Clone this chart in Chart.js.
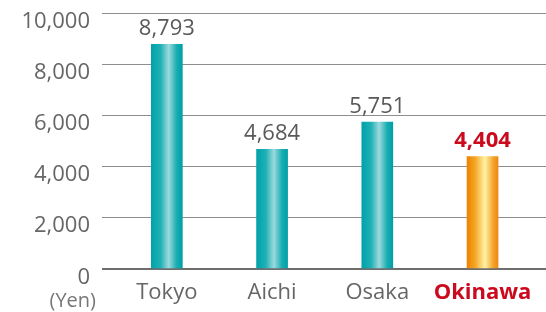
<!DOCTYPE html>
<html>
<head>
<meta charset="utf-8">
<script src="https://cdn.jsdelivr.net/npm/chart.js@4"></script>
<style>
  html, body { margin: 0; padding: 0; background: #fff; }
  canvas { display: block; }
</style>
</head>
<body>
<canvas id="chart" width="546" height="312"></canvas>
<script>
const cities = ['Tokyo', 'Aichi', 'Osaka', 'Okinawa'];
const spending = [8793, 4684, 5751, 4404];
const yTicks = [0, 2000, 4000, 6000, 8000, 10000];
const highlightIndex = 3;

const RED = '#cc0a1e';
const FONT = "'Open Sans', 'Noto Sans', sans-serif";

function barGradient(chart, i) {
  const x = chart.scales.x.getPixelForValue(i);
  const g = chart.ctx.createLinearGradient(x - 15.5, 0, x + 15.5, 0);
  if (i === highlightIndex) {
    g.addColorStop(0, '#ec8300');
    g.addColorStop(0.25, '#f5a424');
    g.addColorStop(0.58, '#fff3a4');
    g.addColorStop(0.85, '#f4a22a');
    g.addColorStop(1, '#ec8a10');
  } else {
    g.addColorStop(0, '#00a2aa');
    g.addColorStop(0.3, '#1fb1b6');
    g.addColorStop(0.56, '#9cdadc');
    g.addColorStop(0.82, '#17adb2');
    g.addColorStop(1, '#009fa7');
  }
  return g;
}

const valueLabels = {
  id: 'valueLabels',
  afterDatasetsDraw(chart) {
    const ctx = chart.ctx;
    const meta = chart.getDatasetMeta(0);
    ctx.save();
    ctx.textAlign = 'center';
    ctx.textBaseline = 'alphabetic';
    meta.data.forEach((bar, i) => {
      const hl = i === highlightIndex;
      ctx.font = (hl ? 'bold ' : '') + '22px ' + FONT;
      ctx.fillStyle = hl ? RED : '#595959';
      ctx.fillText(spending[i].toLocaleString('en-US'), bar.x, bar.y - 9);
    });
    // unit label
    ctx.font = '20px ' + FONT;
    ctx.fillStyle = '#777';
    ctx.textAlign = 'right';
    ctx.fillText('(Yen)', 96, 307);
    ctx.restore();
  }
};

new Chart(document.getElementById('chart'), {
  type: 'bar',
  data: {
    datasets: [{
      data: spending.map((v, i) => ({ x: i, y: v })),
      backgroundColor: ctx => {
        const chart = ctx.chart;
        if (!chart.chartArea || !chart.scales.x) return '#00a2aa';
        return barGradient(chart, ctx.dataIndex);
      },
      borderWidth: 0,
      barThickness: 31
    }]
  },
  options: {
    responsive: false,
    animation: false,
    layout: { padding: { top: 13.5, right: 0, left: 0, bottom: 0 } },
    plugins: {
      legend: { display: false },
      tooltip: { enabled: false }
    },
    scales: {
      x: {
        type: 'linear',
        offset: false,
        min: -0.616,
        max: 3.603,
        grid: { display: false },
        border: { display: false },
        afterBuildTicks: scale => {
          scale.ticks = cities.map((c, i) => ({ value: i }));
        },
        afterFit: scale => {
          scale.height = 43;
          scale.paddingLeft = 0;
          scale.paddingRight = 0;
        },
        ticks: {
          autoSkip: false,
          maxRotation: 0,
          padding: 3,
          callback: v => cities[v],
          color: ctx => ctx.index === highlightIndex ? RED : '#666',
          font: ctx => ({
            family: FONT,
            size: 22,
            weight: ctx.index === highlightIndex ? 'bold' : 'normal'
          })
        }
      },
      y: {
        min: 0,
        max: 10000,
        afterBuildTicks: scale => {
          scale.ticks = yTicks.map(v => ({ value: v }));
        },
        afterFit: scale => {
          scale.width = 102;
          scale.paddingTop = 0;
          scale.paddingBottom = 0;
        },
        grid: {
          drawTicks: false,
          color: ctx => ctx.tick && ctx.tick.value === 0 ? '#6e6e6e' : '#8e8e8e',
          lineWidth: ctx => ctx.tick && ctx.tick.value === 0 ? 2 : 1
        },
        border: { display: false },
        ticks: {
          padding: 12,
          color: '#666',
          font: { family: FONT, size: 22, lineHeight: 0.75 },
          // empty first line shifts the label a little below its grid line
          callback: v => ['', v.toLocaleString('en-US')]
        }
      }
    }
  },
  plugins: [valueLabels]
});
</script>
</body>
</html>
